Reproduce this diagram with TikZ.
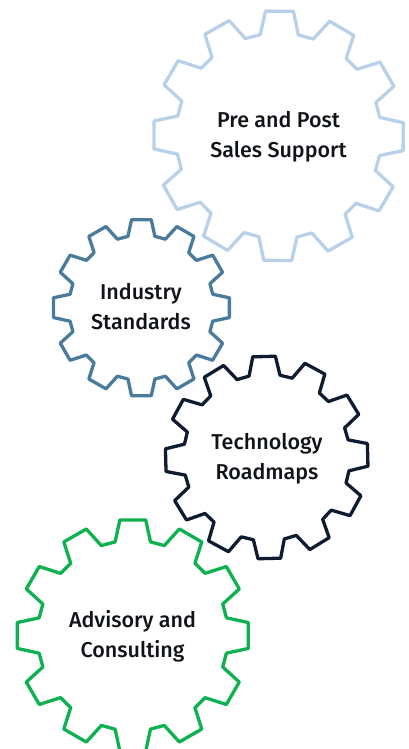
\documentclass[tikz,border=0pt]{standalone}
\usepackage{fontspec}
\setmainfont{Fira Sans}[UprightFont=* Medium]
\definecolor{gearpale}{HTML}{B9D1E8}
\definecolor{gearsteel}{HTML}{4A7B9D}
\definecolor{gearnavy}{HTML}{0E1B30}
\definecolor{geargreen}{HTML}{0DB14F}
\definecolor{labelink}{HTML}{101418}
\newcommand{\gearpath}[5]{% cx, cy, extent, rotation, colour
  \pgfmathsetmacro{\outerR}{#3/cos(6.4)}
  \pgfmathsetmacro{\innerR}{0.825*#3}
  \draw[gearline,draw=#5] ({#1+\outerR*cos(#4-6.4)},{#2+\outerR*sin(#4-6.4)})
    \foreach \k in {0,...,11}{
      \pgfextra{\pgfmathsetmacro{\ang}{#4+30*\k}}
      -- ({#1+\outerR*cos(\ang-6.4)},{#2+\outerR*sin(\ang-6.4)})
      -- ({#1+\outerR*cos(\ang+6.4)},{#2+\outerR*sin(\ang+6.4)})
      -- ({#1+\innerR*cos(\ang+10.7)},{#2+\innerR*sin(\ang+10.7)})
      -- ({#1+\innerR*cos(\ang+19.3)},{#2+\innerR*sin(\ang+19.3)})
    } -- cycle;
}
\tikzset{
  gearline/.style={line width=3.3pt,line join=round,fill=none},
  gearlabel/.style={text=labelink,align=center,inner sep=0pt,
    font=\fontsize{21.5}{30}\selectfont}
}
\begin{document}
\begin{tikzpicture}[x=1pt,y=1pt]
\useasboundingbox (0,0) rectangle (408,-749);
\gearpath{278.6}{-135.8}{124.6}{-0.4}{gearpale}
\gearpath{141.4}{-307.7}{88}{0}{gearsteel}
\gearpath{266.7}{-457.5}{101}{1.5}{gearnavy}
\gearpath{132.8}{-635.5}{115.5}{0}{geargreen}
\node[gearlabel] (support) at (278.5,-136.5) {Pre and Post\\Sales Support};
\node[gearlabel] (standards) at (141,-307) {Industry\\Standards};
\node[gearlabel] (roadmaps) at (267,-459) {Technology\\Roadmaps};
\node[gearlabel] (consulting) at (132.5,-636) {Advisory and\\Consulting};
\end{tikzpicture}
\end{document}
